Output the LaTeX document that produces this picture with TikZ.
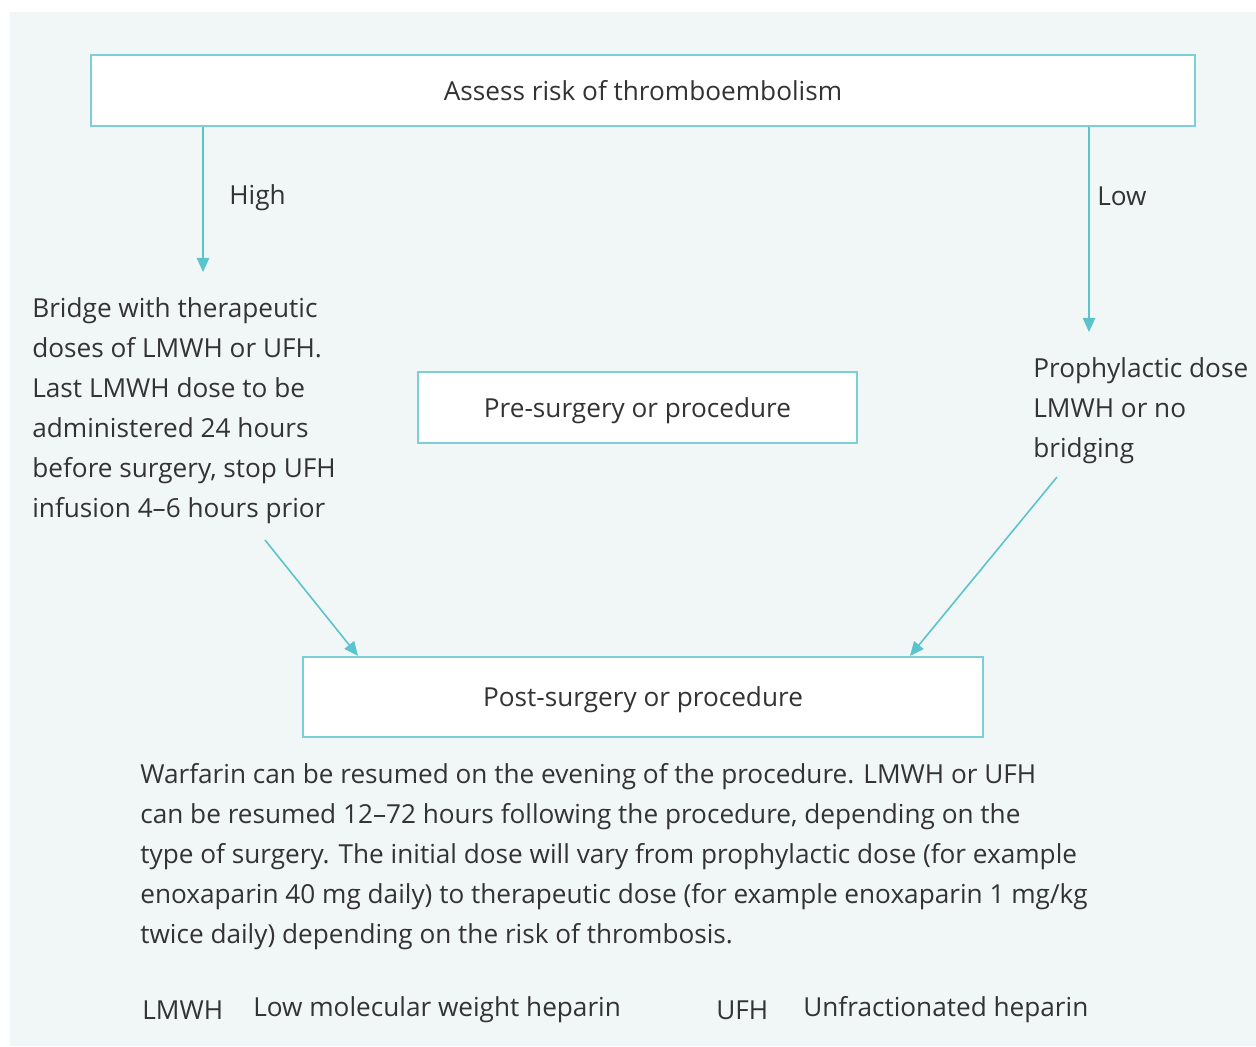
\documentclass[tikz,border=0pt]{standalone}
\usepackage{fontspec}
\setmainfont{Open Sans}
\usetikzlibrary{arrows.meta}
\definecolor{panel}{HTML}{F1F7F7}
\definecolor{teal}{HTML}{7CCFD6}
\definecolor{arrowteal}{HTML}{5AC3CB}
\definecolor{ink}{HTML}{333333}
\tikzstyle{bx}=[draw=teal,line width=1.3pt,fill=white,inner sep=0pt,text=ink,text depth=0pt,font=\fontsize{14.9}{22.8}\selectfont]
\tikzstyle{txt}=[inner sep=0pt,text=ink,align=left,font=\fontsize{14.9}{22.8}\selectfont]
\tikzstyle{arr}=[draw=arrowteal,line width=0.9pt,-{Triangle[length=8pt,width=7pt]}]

\begin{document}
\begin{tikzpicture}[x=0.02cm,y=-0.02cm]
\useasboundingbox (0,0) rectangle (1256,1046);
\fill[white] (0,0) rectangle (1256,1046);
\fill[panel] (10,12) rectangle (1256,1046);
% boxes
\node[bx,minimum width=22.08cm,minimum height=1.42cm] (assess) at (643,90.5) {Assess risk of thromboembolism};
\node[bx,minimum width=8.78cm,minimum height=1.42cm] (pre) at (637.5,407.5) {Pre-surgery or procedure};
\node[bx,minimum width=13.6cm,minimum height=1.6cm] (post) at (643,697) {Post-surgery or procedure};
% branch texts
\node[txt,anchor=west] (high) at (229,198) {High};
\node[txt,anchor=west] (low) at (1097,196) {Low};
\node[txt,anchor=north west] (bridge) at (32,297) {Bridge with therapeutic\\doses of LMWH or UFH.\\Last LMWH dose to be\\administered 24 hours\\before surgery, stop UFH\\infusion 4--6 hours prior};
\node[txt,anchor=north west] (prophy) at (1033,357) {Prophylactic dose\\LMWH or no\\bridging};
\node[txt,anchor=north west] (warf) at (140,763) {Warfarin can be resumed on the evening of the procedure. LMWH or UFH\\can be resumed 12--72 hours following the procedure, depending on the\\type of surgery. The initial dose will vary from prophylactic dose (for example\\enoxaparin 40 mg daily) to therapeutic dose (for example enoxaparin 1 mg/kg\\twice daily) depending on the risk of thrombosis.};
% abbreviations
\node[txt,anchor=west] (lmwh) at (142,1010) {LMWH};
\node[txt,anchor=west] (lmwhdef) at (253,1010) {Low molecular weight heparin};
\node[txt,anchor=west] (ufh) at (716,1010) {UFH};
\node[txt,anchor=west] (ufhdef) at (803,1010) {Unfractionated heparin};
% arrows
\coordinate (hightip) at (203,272);
\coordinate (lowtip) at (1089,332);
\coordinate (bridgeend) at (265,540);
\coordinate (posthigh) at (358,657);
\coordinate (prophyend) at (1057,477);
\coordinate (postlow) at (910,657);
\draw[arr] (assess.south -| hightip) -- (hightip);
\draw[arr] (assess.south -| lowtip) -- (lowtip);
\draw[arr] (bridgeend) -- (post.north -| posthigh);
\draw[arr] (prophyend) -- (post.north -| postlow);
\end{tikzpicture}
\end{document}
